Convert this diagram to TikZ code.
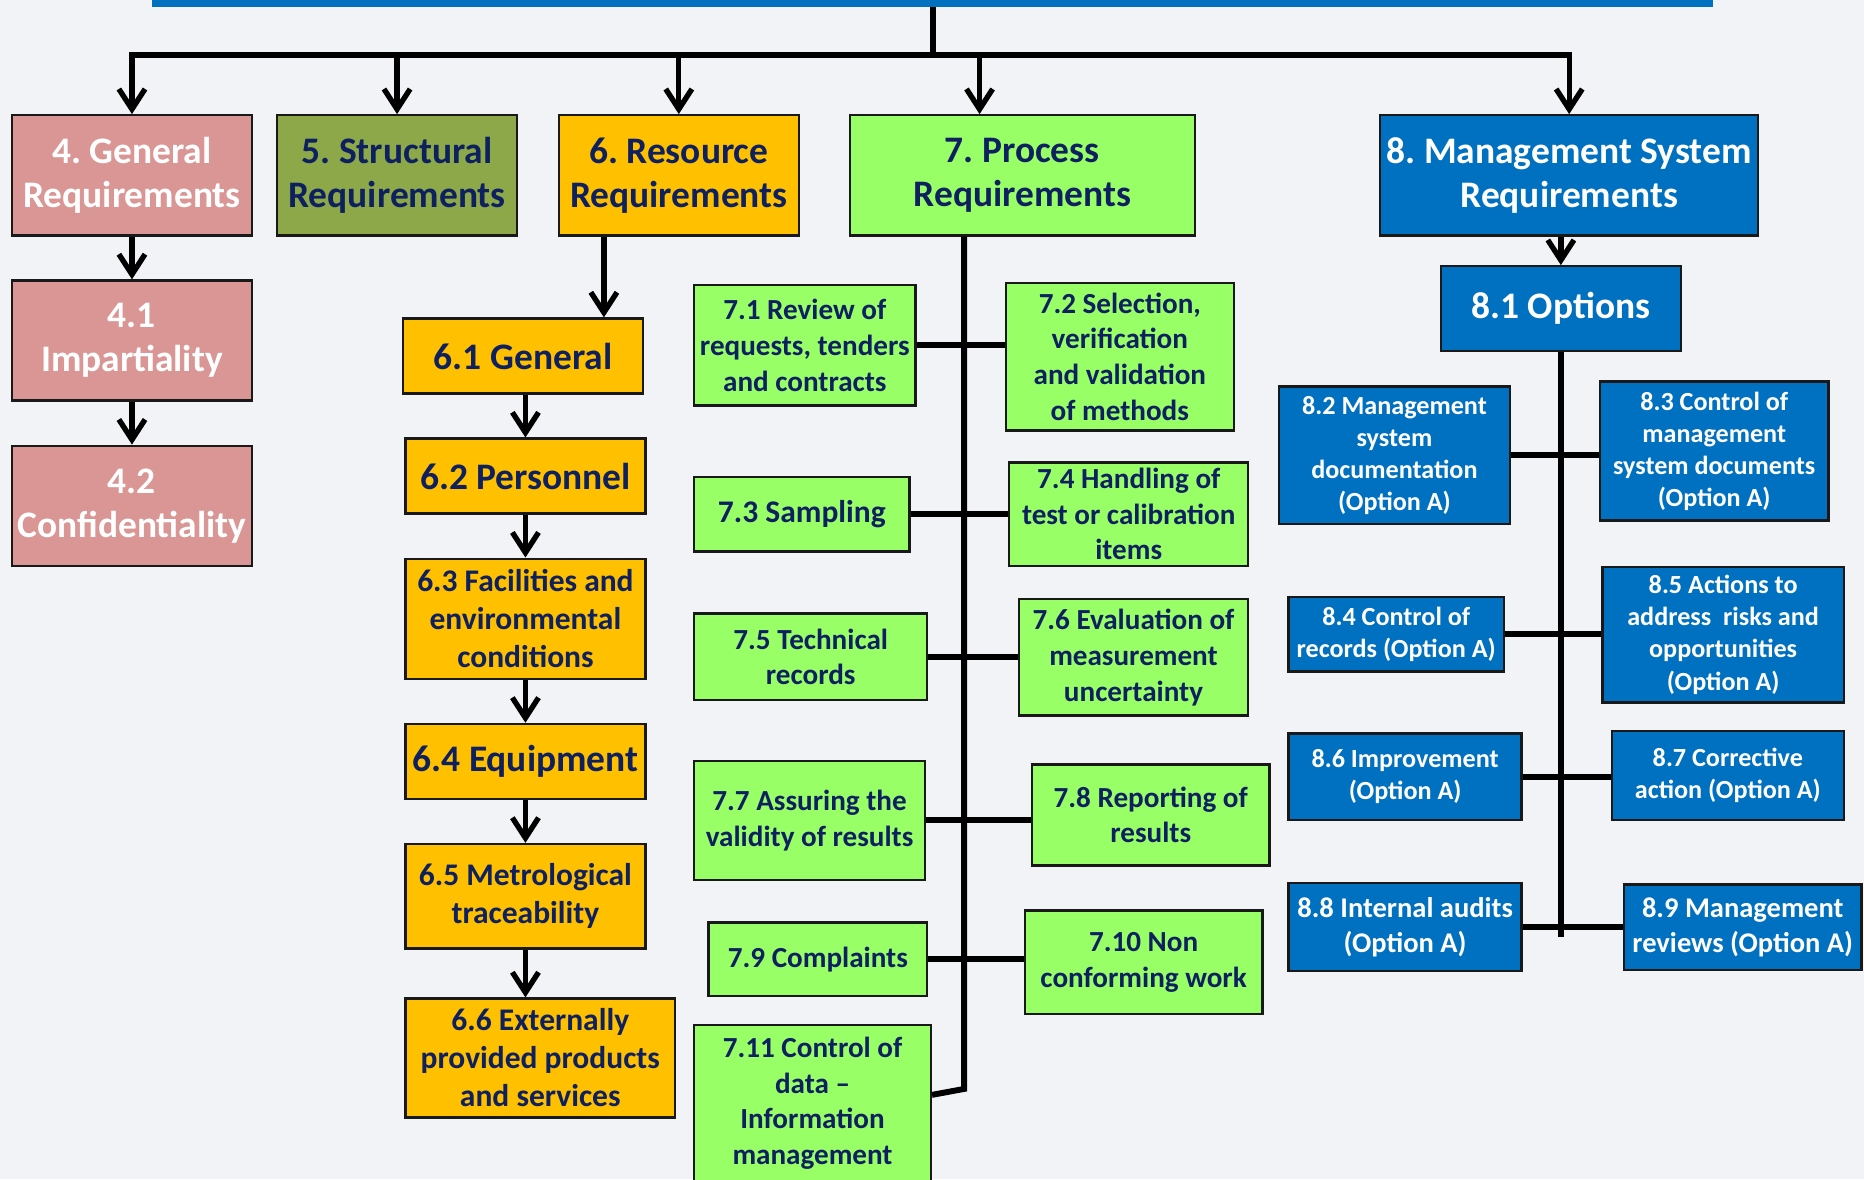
\documentclass[tikz,border=0pt]{standalone}
\usepackage{fontspec}
\setmainfont{Carlito}
\usetikzlibrary{arrows.meta,calc}
\definecolor{bgc}{HTML}{F1F3F6}
\definecolor{pinkc}{HTML}{D99694}
\definecolor{olivec}{HTML}{8CA848}
\definecolor{orangec}{HTML}{FFC000}
\definecolor{greenc}{HTML}{99FF66}
\definecolor{bluec}{HTML}{0070C0}
\definecolor{navyc}{HTML}{0E2060}
\frenchspacing
\newcommand\fszA{\fontsize{31.5}{37}\selectfont\bfseries}
\newcommand\fszB{\fontsize{26.5}{32}\selectfont\bfseries}
\newcommand\fszC{\fontsize{24.5}{30}\selectfont\bfseries}
\newcommand\fszD{\fontsize{22}{27}\selectfont\bfseries}
\newcommand\fszE{\fontsize{24}{30}\selectfont\bfseries}
\begin{document}
\begin{tikzpicture}[x=1pt,y=-1pt,
  box/.style={draw=black!90, line width=2pt, inner sep=0pt, align=center},
  hdr/.style={box, font=\fszA},
  subb/.style={box, font=\fszB},
  pc/.style={box, font=\fszC, fill=greenc, text=navyc},
  pd/.style={box, font=\fszD, fill=bluec, text=white},
  pe/.style={box, font=\fszE, fill=bluec, text=white},
  conn/.style={draw=black, line width=5pt},
  arr/.style={draw=black, line width=4.5pt, -{Straight Barb[length=17pt,width=22pt,line width=4.5pt]}},
  sz/.style 2 args={minimum width=#1pt, minimum height=#2pt}
]
\clip (0,0) rectangle (1568,992);
\fill[bgc] (0,0) rectangle (1568,992);
\node[fill=bluec, inner sep=0pt, sz={1313}{12}] (bar) at (784.5,0) {};

% headers
\node[hdr, fill=pinkc, text=white, sz={202}{101}] (B4) at (111,147.5) {4. General\\Requirements};
\node[hdr, fill=olivec, text=navyc, sz={202}{101}] (B5) at (334,147.5) {5. Structural\\Requirements};
\node[hdr, fill=orangec, text=navyc, sz={202}{101}] (B6) at (571,147.5) {6. Resource\\Requirements};
\node[hdr, fill=greenc, text=navyc, sz={290}{101}] (B7) at (860,147.5) {7. Process\\Requirements};
\node[hdr, fill=bluec, text=white, sz={318}{101}] (B8) at (1320,147.5) {8. Management System\\Requirements};

% column 4
\node[hdr, fill=pinkc, text=white, sz={202}{101}] (B41) at (111,286.5) {4.1\\Impartiality};
\node[hdr, fill=pinkc, text=white, sz={202}{101}] (B42) at (111,425.5) {4.2\\Confidentiality};

% column 6
\node[hdr, fill=orangec, text=navyc, sz={202}{63}] (B61) at (440,299.5) {6.1 General};
\node[hdr, fill=orangec, text=navyc, sz={202}{63}] (B62) at (442,400.5) {6.2 Personnel};
\node[subb, fill=orangec, text=navyc, sz={202}{101}] (B63) at (442,520.5) {6.3 Facilities and\\environmental\\conditions};
\node[hdr, fill=orangec, text=navyc, sz={202}{63}] (B64) at (442,640.5) {6.4 Equipment};
\node[subb, fill=orangec, text=navyc, sz={202}{88}] (B65) at (442,754) {6.5 Metrological\\traceability};
\node[subb, fill=orangec, text=navyc, sz={227}{100}] (B66) at (454.5,890) {6.6 Externally\\provided products\\and services};

% column 7
\node[pc, sz={186}{101}] (B71) at (677,290.5) {7.1 Review of\\requests, tenders\\and contracts};
\node[pc, sz={192}{124}] (B72) at (942,300) {7.2 Selection,\\verification\\and validation\\of methods};
\node[pc, font=\fszB, sz={181}{63}] (B73) at (674.5,432.5) {7.3 Sampling};
\node[pc, sz={201}{87}] (B74) at (949.5,432.5) {7.4 Handling of\\test or calibration\\items};
\node[pc, sz={196}{73}] (B75) at (682,552.5) {7.5 Technical\\records};
\node[pc, sz={193}{98}] (B76) at (953.5,553) {7.6 Evaluation of\\measurement\\uncertainty};
\node[pc, sz={194}{100}] (B77) at (681,690) {7.7 Assuring the\\validity of results};
\node[pc, sz={200}{85}] (B78) at (968,685.5) {7.8 Reporting of\\results};
\node[pc, sz={184}{62}] (B79) at (688,807) {7.9 Complaints};
\node[pc, sz={200}{87}] (B710) at (962,809.5) {7.10 Non\\conforming work};
\node[pc, sz={199}{132}] (B711) at (683.5,928) {7.11 Control of\\data –\\Information\\management};

% column 8
\node[hdr, fill=bluec, text=white, sz={202}{71}] (B81) at (1313,259.5) {8.1 Options};
\node[pd, sz={194}{116}] (B82) at (1173,383) {8.2 Management\\system\\documentation\\(Option A)};
\node[pd, sz={192}{117}] (B83) at (1442,379.5) {8.3 Control of\\management\\system documents\\(Option A)};
\node[pd, sz={181}{63}] (B84) at (1174.5,533.5) {8.4 Control of\\records (Option A)};
\node[pd, sz={203}{114}] (B85) at (1449.5,534) {8.5 Actions to\\address~ risks and\\opportunities\\(Option A)};
\node[pd, sz={196}{73}] (B86) at (1182,653.5) {8.6 Improvement\\(Option A)};
\node[pd, sz={195}{75}] (B87) at (1453.5,652.5) {8.7 Corrective\\action (Option A)};
\node[pe, sz={196}{74}] (B88) at (1182,780) {8.8 Internal audits\\(Option A)};
\node[pe, sz={200}{72}] (B89) at (1466,780) {8.9 Management\\reviews (Option A)};

% top tree
\draw[conn] (bar.south) -- ++(0,40) coordinate (hub);
\draw[conn, line cap=rect] (B4.north |- hub) -- (B8.north |- hub);
\draw[arr] (B4.north |- hub) -- (B4.north);
\draw[arr] (B5.north |- hub) -- (B5.north);
\draw[arr] (B6.north |- hub) -- (B6.north);
\coordinate (a7) at ($(B7.north west)+(110,0)$);
\draw[arr] (a7 |- hub) -- (a7);
\draw[arr] (B8.north |- hub) -- (B8.north);

% column 4 arrows
\draw[arr] (B4.south) -- (B41.north);
\draw[arr] (B41.south) -- (B42.north);

% column 6 arrows
\coordinate (s6) at ($(B6.south west)+(39,0)$);
\draw[arr] (s6) -- (s6 |- B61.north);
\draw[arr] (B62.north |- B61.south) -- (B62.north);
\draw[arr] (B62.south) -- (B63.north);
\draw[arr] (B63.south) -- (B64.north);
\draw[arr] (B64.south) -- (B65.north);
\draw[arr] (B65.south) -- (B65.south |- B66.north);

% column 7 spine
\coordinate (s7) at ($(B7.south west)+(97,0)$);
\coordinate (s7b) at ($(s7 |- B711.north)+(0,55)$);
\draw[conn] (s7) -- (s7b) -- ($(B711.north east)+(0,60)$);
\draw[conn] (B71.east) -- (B71.east -| B72.west);
\draw[conn] (B73.east) -- (B73.east -| B74.west);
\draw[conn] (B75.east) -- (B75.east -| B76.west);
\draw[conn] (B77.east) -- (B77.east -| B78.west);
\draw[conn] (B79.east) -- (B79.east -| B710.west);

% column 8
\draw[arr] (B81.north |- B8.south) -- (B81.north);
\draw[conn] (B81.south) -- ($(B81.south |- B88.east)+(0,8)$);
\draw[conn] (B82.east) -- (B82.east -| B83.west);
\draw[conn] (B84.east) -- (B84.east -| B85.west);
\draw[conn] (B86.east) -- (B86.east -| B87.west);
\draw[conn] (B88.east) -- (B88.east -| B89.west);
\end{tikzpicture}
\end{document}
